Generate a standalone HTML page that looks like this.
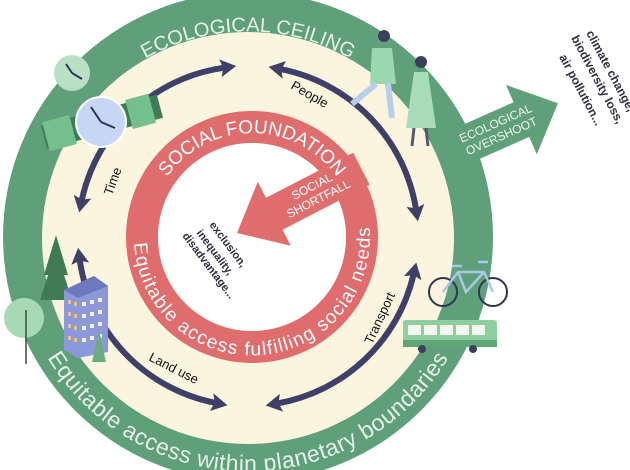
<!DOCTYPE html>
<html><head><meta charset="utf-8"><style>
html,body{margin:0;padding:0;background:#fff;}
svg{display:block;font-family:"Liberation Sans",sans-serif;}
</style></head><body>
<svg width="630" height="470" viewBox="0 0 630 470" xmlns="http://www.w3.org/2000/svg">
<defs>
<marker id="ah" markerUnits="userSpaceOnUse" viewBox="0 0 16 18" markerWidth="16" markerHeight="18" refX="4" refY="9" orient="auto-start-reverse">
<path d="M0,0 L16,9 L0,18 L3,9 z" fill="#3f4068"/>
</marker>
<path id="tEco" d="M 129,69 A 207 207 0 0 1 367,69"/>
<path id="tBot" d="M 22,298 A 234 234 0 0 0 474,298"/>
<path id="tSoc" d="M 162,185 A 104 104 0 0 1 342,185"/>
<path id="tEq" d="M 134.2,243.2 A 118 118 0 1 0 367.4,212.5"/>
</defs>
<circle cx="248" cy="237" r="245" fill="#5f9f79"/>
<!-- overshoot arrow -->
<g transform="translate(462,146) rotate(-24)">
<polygon points="-30,-19 65,-19 65,-38 105,0 65,38 65,19 -30,19" fill="#5f9f79"/>
<text x="40" y="-3" font-size="12" fill="#eef7f0" text-anchor="middle">ECOLOGICAL</text>
<text x="40" y="11" font-size="12" fill="#eef7f0" text-anchor="middle">OVERSHOOT</text>
</g>
<circle cx="248" cy="238" r="206" fill="#fbf5e0"/>
<!-- ring texts -->
<text font-size="20" fill="#e6f2ea"><textPath href="#tEco" startOffset="50%" text-anchor="middle">ECOLOGICAL CEILING</textPath></text>
<text font-size="23" fill="#e6f2ea" letter-spacing="0.5"><textPath href="#tBot" startOffset="50%" text-anchor="middle">Equitable access within planetary boundaries</textPath></text>
<!-- red ring -->
<circle cx="252" cy="237" r="110" fill="none" stroke="#e06d6d" stroke-width="32"/>
<circle cx="252" cy="237" r="94" fill="#fff"/>
<g transform="translate(237,233) rotate(-27.3)">
<polygon points="0,0 42,-36 42,-18 140,-18 140,18 42,18 42,36" fill="#e06d6d"/>
<text x="88" y="-3" font-size="12" fill="#fff" text-anchor="middle">SOCIAL</text>
<text x="88" y="11" font-size="12" fill="#fff" text-anchor="middle">SHORTFALL</text>
</g>
<text font-size="19" fill="#fff"><textPath href="#tSoc" startOffset="50%" text-anchor="middle">SOCIAL FOUNDATION</textPath></text>
<text font-size="19" fill="#fff"><textPath href="#tEq" textLength="375" lengthAdjust="spacing">Equitable access fulfilling social needs</textPath></text>
<g fill="#2d2f45" font-size="11" font-weight="bold">
<text transform="translate(209,225) rotate(53)">exclusion,</text>
<text transform="translate(196,233) rotate(53)">inequality,</text>
<text transform="translate(182,236) rotate(53)">disadvantage...</text>
</g>
<g fill="#2d2f45" font-size="12" font-weight="bold">
<text transform="translate(586,33) rotate(62)">climate change,</text>
<text transform="translate(571,38) rotate(62)">biodiversity loss,</text>
<text transform="translate(559,57) rotate(62)">air pollution...</text>
</g>
<!-- navy arrows -->
<g fill="none" stroke="#3f4068" stroke-width="6">
<path d="M 145.7,100.2 A 170 170 0 0 1 224.3,67.7" marker-end="url(#ah)"/>
<path d="M 280.4,69.1 A 170 170 0 0 1 416,209.4" marker-start="url(#ah)" marker-end="url(#ah)"/>
<path d="M 105.4,143.4 A 170 170 0 0 0 81.7,200.6" marker-end="url(#ah)"/>
<path d="M 79.7,259.7 A 170 170 0 0 0 215.6,402.9" marker-start="url(#ah)" marker-end="url(#ah)"/>
<path d="M 277.5,403.4 A 170 170 0 0 0 413.6,274.2" marker-start="url(#ah)" marker-end="url(#ah)"/>
</g>
<g font-size="13" fill="#111">
<text transform="translate(112,196) rotate(-70)">Time</text>
<text transform="translate(290,88) rotate(30)">People</text>
<text transform="translate(148,360) rotate(27)">Land use</text>
<text transform="translate(372,345) rotate(-65)">Transport</text>
</g>
<!-- clock -->
<circle cx="72" cy="73" r="18" fill="#b9e0c4"/>
<path d="M72,73 L66,64 M72,73 L82,79" stroke="#2f3354" stroke-width="2"/>
<!-- watch -->
<g transform="rotate(-15 101 122)">
<rect x="42" y="110" width="120" height="24" fill="#3e7d56"/>
<rect x="44" y="107" width="28" height="30" fill="#74bf8c"/>
<rect x="130" y="107" width="24" height="30" fill="#74bf8c"/>
</g>
<circle cx="101" cy="122" r="26" fill="#fff"/>
<circle cx="101" cy="122" r="24" fill="#c6d6f3"/>
<path d="M101,122 L91,107 M101,122 L115,128" stroke="#2f3354" stroke-width="2"/>
<!-- trees & building -->
<polygon points="56,235 44,275 48,275 40,300 72,300 64,275 68,275" fill="#3f7b55"/>
<circle cx="24" cy="318" r="20" fill="#a8d9b5"/>
<path d="M26,310 L26,364" stroke="#3a4a3f" stroke-width="1.5"/>
<polygon points="64,290 94,276 108,286 108,352 78,358 64,350" fill="#8c98d8"/>
<polygon points="64,290 94,276 108,286 78,298" fill="#6d79bf"/>
<g fill="#f4f1e0">
<rect x="82" y="302" width="4" height="4"/><rect x="90" y="300" width="4" height="4"/><rect x="98" y="298" width="4" height="4"/>
<rect x="82" y="314" width="4" height="4"/><rect x="90" y="312" width="4" height="4"/><rect x="98" y="310" width="4" height="4"/>
<rect x="82" y="326" width="4" height="4"/><rect x="90" y="324" width="4" height="4"/><rect x="98" y="322" width="4" height="4"/>
<rect x="82" y="338" width="4" height="4"/><rect x="90" y="336" width="4" height="4"/><rect x="98" y="334" width="4" height="4"/>
</g>
<g fill="#e7c08a">
<rect x="68" y="300" width="3" height="4"/><rect x="74" y="302" width="3" height="4"/>
<rect x="68" y="312" width="3" height="4"/><rect x="74" y="314" width="3" height="4"/>
<rect x="68" y="324" width="3" height="4"/><rect x="74" y="326" width="3" height="4"/>
<rect x="68" y="336" width="3" height="4"/><rect x="74" y="338" width="3" height="4"/>
</g>
<polygon points="99,330 92,362 106,362" fill="#6aae80"/>
<!-- people -->
<circle cx="384" cy="36" r="6" fill="#3a3f5c"/>
<path d="M372,48 L392,48 L396,84 L370,84 Z" fill="#9ad8b0"/>
<path d="M376,84 L352,104 M388,84 L392,118" stroke="#b9cdec" stroke-width="6"/>
<circle cx="421" cy="62" r="6" fill="#3a3f5c"/>
<path d="M414,72 L428,72 L436,128 L406,128 Z" fill="#a9dcb9"/>
<path d="M414,128 L412,146 M426,128 L428,146" stroke="#555a70" stroke-width="3"/>
<!-- bicycle -->
<g fill="none" stroke="#2f3354" stroke-width="2">
<circle cx="443" cy="292" r="14"/><circle cx="493" cy="292" r="14"/>
</g>
<path d="M443,292 L458,272 L484,272 L493,292 M458,272 L466,292 L484,272 M452,266 L462,266 M478,262 L488,262" fill="none" stroke="#a9c7e6" stroke-width="2.5"/>
<!-- bus -->
<rect x="403" y="320" width="94" height="27" rx="3" fill="#8fcf9f"/>
<rect x="403" y="340" width="94" height="7" fill="#5fa777"/>
<g fill="#f4f7f0">
<rect x="408" y="325" width="13" height="10"/><rect x="424" y="325" width="13" height="10"/><rect x="440" y="325" width="13" height="10"/><rect x="456" y="325" width="13" height="10"/><rect x="472" y="325" width="13" height="10"/>
</g>
<circle cx="422" cy="349" r="4" fill="#3a3f5c"/><circle cx="473" cy="349" r="4" fill="#3a3f5c"/>
</svg>
</body></html>
